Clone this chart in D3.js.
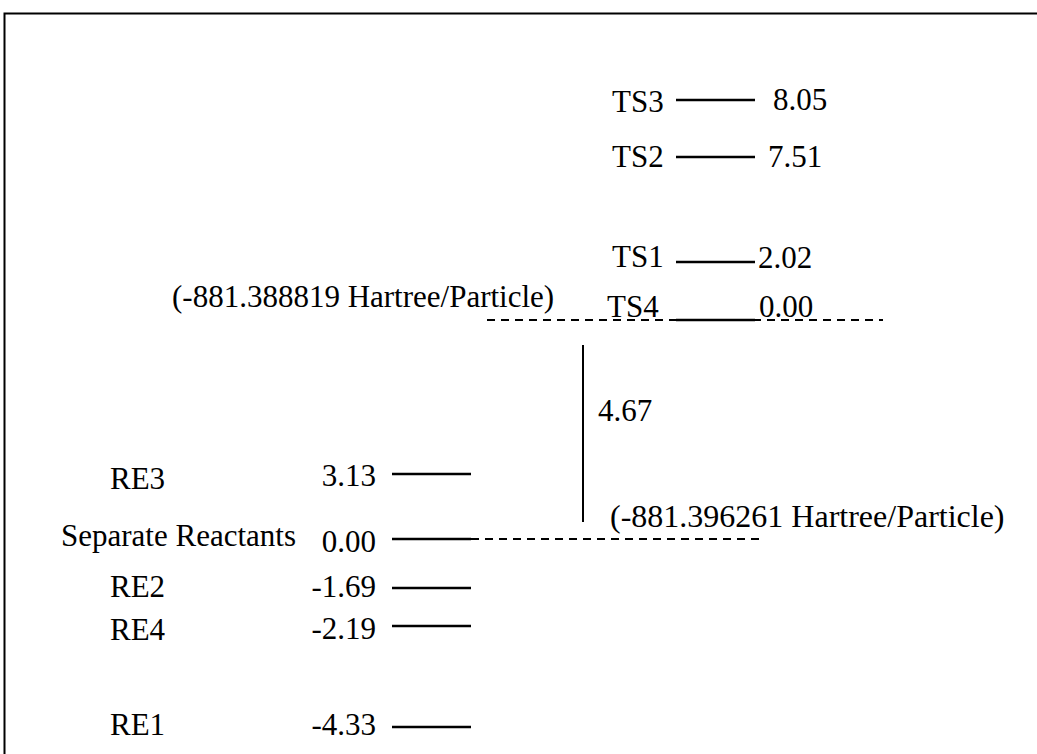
<!DOCTYPE html>
<html>
<head>
<meta charset="utf-8">
<script src="https://cdn.jsdelivr.net/npm/d3@7"></script>
<style>
    body { margin: 0; background: #fff; }
    svg text { font-family: "Liberation Serif", "Times New Roman", serif; font-size: 31px; fill: #000; }
</style>
</head>
<body>
<svg id="chart" width="1037" height="754"></svg>
<script>
// reactant side, relative to separate reactants
const reLabels = ["RE3", "Separate Reactants", "RE2", "RE4", "RE1"];
const reValues = [3.13, 0.00, -1.69, -2.19, -4.33];

// transition states, relative to TS4
const tsLabels = ["TS3", "TS2", "TS1", "TS4"];
const tsValues = [8.05, 7.51, 2.02, 0.00];

// gap between the two reference levels
const barrierValue = 4.67;
const refLabels = ["(-881.388819 Hartree/Particle)", "(-881.396261 Hartree/Particle)"];

// hand placed label nudges of the original drawing (layout only)
const reNameDy = [15, 7, 9, 14, 8];
const reValueDy = [12, 13, 9, 13, 8];
const tsNameDy = [12, 10, 5, -3];
const tsNameDx = [0, 0, 0, -5];
const tsValueDy = [10, 10, 6, -3];
const tsValueDx = [18, 13, 3, 4];

let svg = d3.select("#chart");

// schematic diagram: levels are not to scale, so the energy axis is piecewise
let absEnergies = reValues.concat(tsValues.map(v => v + barrierValue)).sort((a, b) => a - b);
let y = d3.scaleLinear()
    .domain(absEnergies)
    .range([727, 626, 588, 539, 474, 320, 262, 157, 100]);

let xLeft = d3.scaleLinear().domain([0, 1]).range([392, 471]);
let xRight = d3.scaleLinear().domain([0, 1]).range([676, 755]);

// frame (only top and left edges fall inside the page)
svg.append('rect')
    .attr('x', 4.5)
    .attr('y', 13.5)
    .attr('width', 1100)
    .attr('height', 800)
    .attr('fill', 'none')
    .attr('stroke', 'black')
    .attr('stroke-width', 2);

function drawLevels(g, data, xs) {
    g.selectAll('.level-line').data(data).enter()
        .append('line')
        .classed('level-line', true)
        .attr('x1', xs(0))
        .attr('x2', xs(1))
        .attr('y1', d => y(d.e))
        .attr('y2', d => y(d.e))
        .attr('stroke', 'black')
        .attr('stroke-width', 2.6);

    g.selectAll('.level-name').data(data).enter()
        .append('text')
        .classed('level-name', true)
        .attr('x', d => d.nameX)
        .attr('y', d => y(d.e) + d.nameDy)
        .text(d => d.label);

    g.selectAll('.level-value').data(data).enter()
        .append('text')
        .classed('level-value', true)
        .attr('text-anchor', d => d.anchor)
        .attr('x', d => d.valueX)
        .attr('y', d => y(d.e) + d.valueDy)
        .text(d => d.val.toFixed(2));
}

let reData = reLabels.map((l, i) => ({
    label: l, val: reValues[i], e: reValues[i],
    nameX: l.length > 4 ? 61 : 110, nameDy: reNameDy[i],
    valueX: 376, valueDy: reValueDy[i], anchor: 'end'
}));
let tsData = tsLabels.map((l, i) => ({
    label: l, val: tsValues[i], e: tsValues[i] + barrierValue,
    nameX: 612 + tsNameDx[i], nameDy: tsNameDy[i],
    valueX: xRight(1) + tsValueDx[i], valueDy: tsValueDy[i], anchor: 'start'
}));

let leftG = svg.append('g').attr('id', 'reactants-g');
drawLevels(leftG, reData, xLeft);

let rightG = svg.append('g').attr('id', 'ts-g');
drawLevels(rightG, tsData, xRight);

// dashed reference lines
let refG = svg.append('g').attr('id', 'reference-g');
refG.append('line')
    .attr('x1', 487).attr('x2', 883)
    .attr('y1', y(barrierValue)).attr('y2', y(barrierValue))
    .attr('stroke', 'black')
    .attr('stroke-width', 2)
    .attr('stroke-dasharray', '8,6');
refG.append('line')
    .attr('x1', xLeft(1)).attr('x2', 765)
    .attr('y1', y(0)).attr('y2', y(0))
    .attr('stroke', 'black')
    .attr('stroke-width', 2)
    .attr('stroke-dasharray', '8,6');

refG.append('text')
    .attr('x', 172)
    .attr('y', y(barrierValue) - 13)
    .text(refLabels[0]);
refG.append('text')
    .attr('x', 610)
    .attr('y', y(0) - 12)
    .style('font-size', '32px')
    .text(refLabels[1]);

// barrier bar between the two references
let barTop = y(barrierValue) + 25;
let barBottom = y(0) - 17;
refG.append('line')
    .attr('x1', 583).attr('x2', 583)
    .attr('y1', barTop).attr('y2', barBottom)
    .attr('stroke', 'black')
    .attr('stroke-width', 2);
refG.append('text')
    .attr('x', 598)
    .attr('y', 421)
    .text(barrierValue.toFixed(2));
</script>
</body>
</html>
